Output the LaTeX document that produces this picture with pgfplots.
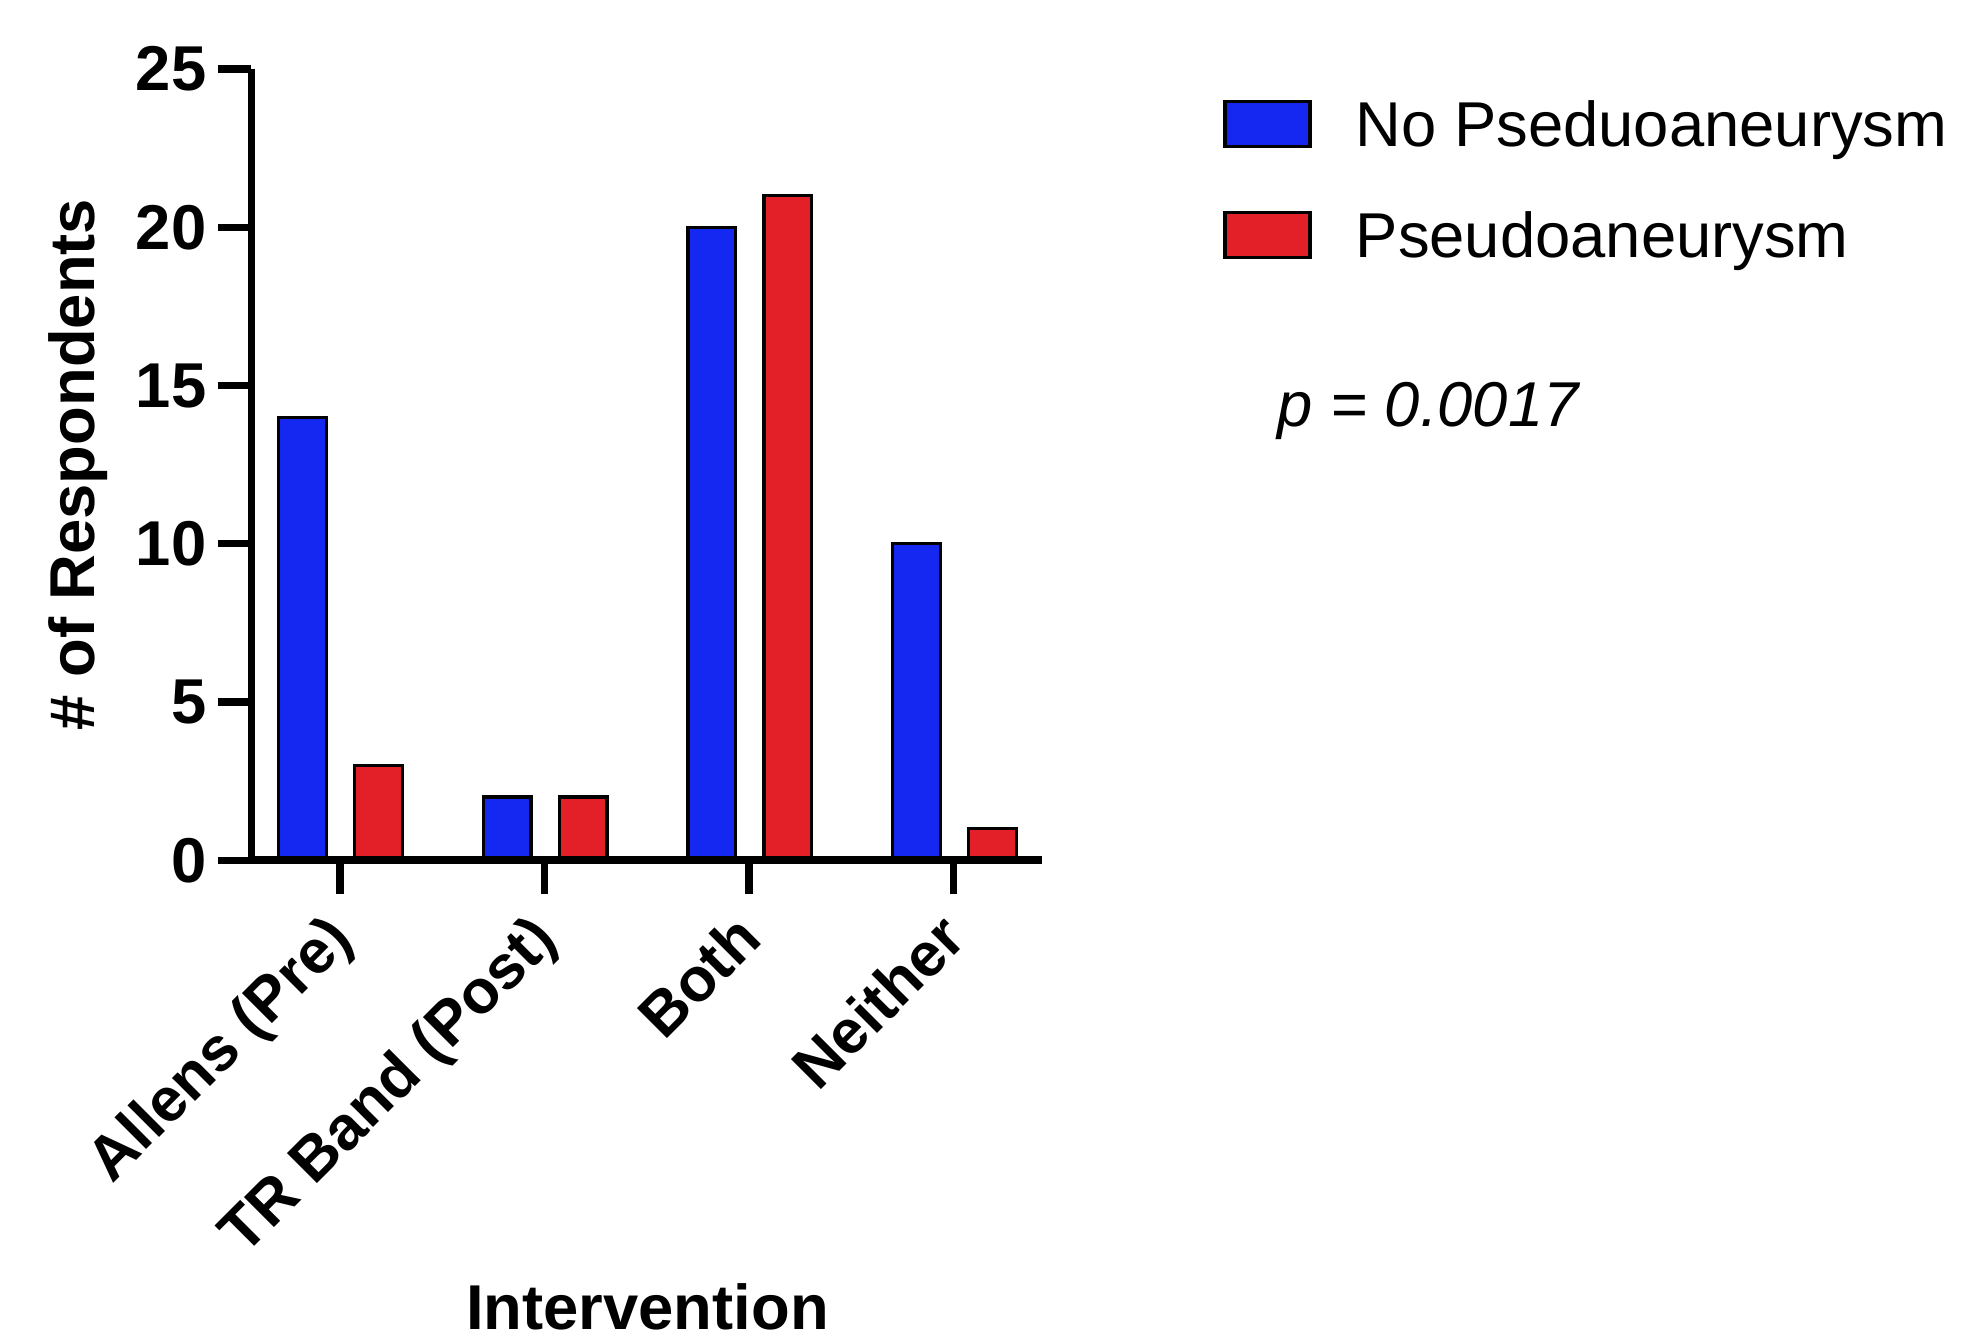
\documentclass[border=0pt]{standalone}
\usepackage{fontspec}
\setmainfont{Liberation Sans}
\usepackage{pgfplots}
\pgfplotsset{compat=1.18}
\definecolor{pblue}{RGB}{20,40,242}
\definecolor{pred}{RGB}{227,32,40}
\begin{document}
\begin{tikzpicture}
\path[use as bounding box] (-75.4pt,-144.3pt) rectangle (514.2pt,258.0pt);
\begin{axis}[
  at={(0,0)}, anchor=south west,
  scale only axis, width=237.2pt, height=237.3pt,
  xmin=-0.4326, xmax=3.433, ymin=0, ymax=25,
  clip=false,
  axis x line*=bottom, axis y line*=left,
  axis line style={-, line width=2.3pt},
  xtick={0,1,2,3},
  xticklabels={Allens (Pre),TR Band (Post),Both,Neither},
  ytick={0,5,10,15,20,25},
  tick align=outside, major tick length=10pt,
  every tick/.style={black, line width=2.2pt},
  /pgf/number format/assume math mode=true,
  xticklabel style={xshift=-5pt, rotate=45, anchor=north east, font=\fontsize{18.5}{18.5}\selectfont\bfseries},
  yticklabel style={font=\fontsize{19}{19}\selectfont\bfseries},
  xlabel={Intervention}, ylabel={\# of Respondents},
  label style={font=\fontsize{19}{19}\selectfont\bfseries},
  xlabel style={at={(axis description cs:0.5008,-0.5925)}, anchor=base, inner sep=0pt},
  ylabel style={at={(axis description cs:-0.2196,0.5)}, anchor=center},
  ybar, bar width=0.233,
  axis on top,
  legend image code/.code={\draw[#1, line width=1pt] (0pt,-5.45pt) rectangle (25.5pt,8.05pt);},
  legend cell align=left,
  legend style={at={(axis description cs:1.228,0.9663)}, anchor=north west,
    draw=none, fill=none, inner sep=0pt, row sep=14.3pt,
    font=\fontsize{19}{19}\selectfont,
    nodes={inner sep=0pt, text height=15pt, text depth=4pt},
    /tikz/every odd column/.style={column sep=13.2pt}},
]
\addplot[fill=pblue, draw=black, line width=1pt, bar shift=-0.1826] coordinates {(0,14) (1,2) (2,20) (3,10)};
\addlegendentry{No Pseduoaneurysm}
\addplot[fill=pred, draw=black, line width=1pt, bar shift=0.189] coordinates {(0,3) (1,2) (2,21) (3,1)};
\addlegendentry{Pseudoaneurysm}
\node[anchor=base west, inner sep=0pt, font=\fontsize{19}{19}\selectfont\itshape] at (rel axis cs:1.2964,0.5483) {p = 0.0017};
\end{axis}
\end{tikzpicture}
\end{document}
